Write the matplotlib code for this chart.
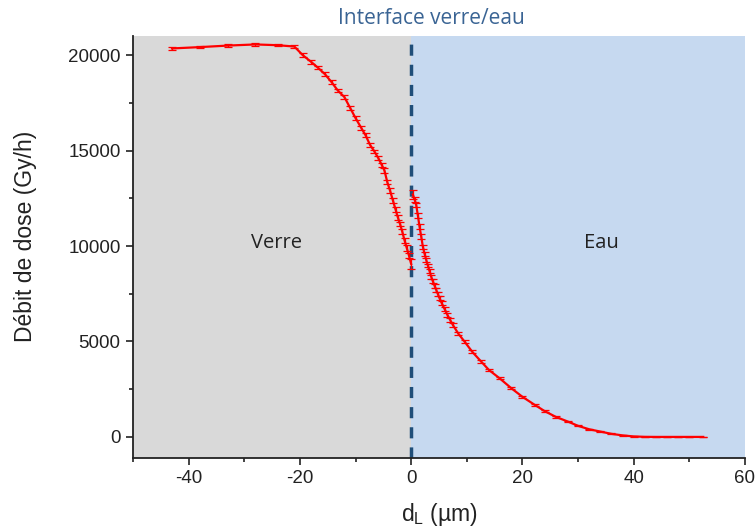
import matplotlib
matplotlib.use("Agg")
import matplotlib.pyplot as plt
from matplotlib.ticker import MultipleLocator

# Glass side (verre)
x_verre = [-43, -38, -33, -28, -24, -21, -19.5, -18, -16.8, -15.5, -14.3, -13.2, -12, -11,
           -10, -9, -8.2, -7.4, -6.6, -5.9, -5.3, -4.8, -4.3, -3.8, -3.3, -2.8, -2.4, -2.0,
           -1.6, -1.2, -0.8, -0.4, 0.0]
y_verre = [20350, 20420, 20500, 20560, 20520, 20450, 20000, 19650, 19350, 19000, 18580, 18150,
           17800, 17250, 16700, 16200, 15800, 15300, 14950, 14600, 14250, 13950, 13350, 12900,
           12400, 11900, 11500, 11150, 10750, 10300, 9900, 9500, 9050]
e_verre = [100, 60, 60, 60, 60, 80, 100, 100, 100, 100, 100, 100, 100, 100,
           100, 100, 100, 100, 100, 100, 100, 120, 120, 120, 120, 120, 120, 120,
           120, 120, 150, 150, 250]

# Water side (eau)
x_eau = [0.3, 0.6, 0.9, 1.2, 1.5, 1.8, 2.1, 2.4, 2.7, 3.0, 3.3, 3.6, 3.9, 4.2, 4.5, 4.8, 5.1,
         5.5, 6.0, 6.5, 7.0, 7.5, 8.5, 9.6, 11, 12.6, 14, 15.9, 18, 20, 22.2, 24, 26, 28.2,
         30, 32, 34, 36, 38, 40, 42, 44, 46, 48, 50, 52.5]
y_eau = [12700, 12450, 12150, 11600, 11010, 10500, 9960, 9600, 9270, 8980, 8680, 8390, 8150,
         7920, 7700, 7480, 7260, 7000, 6700, 6400, 6130, 5860, 5400, 4990, 4450, 3940, 3500,
         3070, 2550, 2100, 1680, 1350, 1050, 800, 580, 400, 280, 160, 80, 25, 5, 0, 0, 0, 0, 0]
e_eau = [250, 120, 120, 120, 120, 120, 100, 100, 100, 100, 100, 100, 100, 100, 100, 100, 100,
         100, 100, 100, 100, 100, 80, 80, 80, 80, 60, 60, 60, 60, 50, 50, 40, 40,
         30, 30, 20, 20, 10, 10, 5, 5, 5, 5, 5, 5]

x_ticks = [-40, -20, 0, 20, 40, 60]
y_ticks = [0, 5000, 10000, 15000, 20000]

plt.rcParams['font.family'] = ['Liberation Sans', 'DejaVu Sans']
plt.rcParams['axes.unicode_minus'] = False

fig = plt.figure(figsize=(7.56, 5.30), dpi=100)
ax = fig.add_axes([0.176, 0.136, 0.8094, 0.796])

ax.axvspan(-50, 0, color='#d9d9d9', zorder=0, lw=0)
ax.axvspan(0, 60, color='#c6d9f0', zorder=0, lw=0)
ax.axvline(0, color='#1f4e79', lw=2.5, ls=(0, (3.2, 2.6)), zorder=2)

for xs, ys, es in [(x_verre, y_verre, e_verre), (x_eau, y_eau, e_eau)]:
    ax.errorbar(xs, ys, yerr=es, color='#ff0000', lw=1.6, elinewidth=0.9,
                capsize=3.2, capthick=0.9, zorder=3)

ax.set_xlim(-50, 60)
ax.set_ylim(-1100, 21000)
ax.set_xticks(x_ticks)
ax.set_yticks(y_ticks)
ax.xaxis.set_minor_locator(MultipleLocator(10))
ax.yaxis.set_minor_locator(MultipleLocator(2500))
ax.tick_params(which='major', direction='out', length=5, width=1.2, labelsize=13.5,
               colors='#222222', pad=4)
ax.tick_params(which='minor', direction='out', length=3, width=1.2, colors='#222222')

for s in ['top', 'right']:
    ax.spines[s].set_visible(False)
for s in ['left', 'bottom']:
    ax.spines[s].set_linewidth(1.3)
    ax.spines[s].set_color('#222222')

ax.set_ylabel('Débit de dose (Gy/h)', fontsize=16.5, color='#222222')
ax.yaxis.set_label_coords(-0.157, 0.526)
ax.set_xlabel(r'd$_\mathregular{L}$ (µm)', fontsize=16.5, color='#222222', labelpad=10)

ax.text(-24.3, 10160, 'Verre', fontsize=14.5, color='#222222', ha='center', va='center',
        family=['Open Sans', 'DejaVu Sans'])
ax.text(34.1, 10160, 'Eau', fontsize=14.5, color='#222222', ha='center', va='center',
        family=['Open Sans', 'DejaVu Sans'])

fig.text(0.571, 0.966, 'Interface verre/eau', fontsize=15, color='#3a6494',
         ha='center', va='center', family=['Open Sans', 'DejaVu Sans'])

fig.savefig('out.png', dpi=100)
